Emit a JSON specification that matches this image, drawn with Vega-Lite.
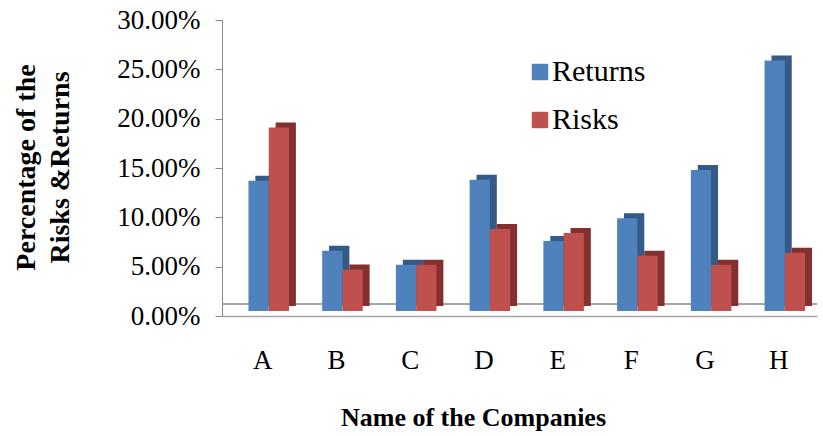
{
  "$schema": "https://vega.github.io/schema/vega-lite/v6.json",
  "autosize": {"type": "none"},
  "width": 595,
  "height": 296,
  "padding": {"left": 222, "top": 20, "right": 6, "bottom": 120},
  "background": "white",
  "config": {
    "view": {"stroke": null},
    "font": "Liberation Serif",
    "axis": {"labelFont": "Liberation Serif", "titleFont": "Liberation Serif"},
    "legend": {"labelFont": "Liberation Serif", "titleFont": "Liberation Serif"}
  },
  "resolve": {"scale": {"x": "independent"}},
  "data": {
    "values": [
      {"company": "A", "series": "Returns", "value": 0.132},
      {"company": "A", "series": "Risks", "value": 0.186},
      {"company": "B", "series": "Returns", "value": 0.061},
      {"company": "B", "series": "Risks", "value": 0.042},
      {"company": "C", "series": "Returns", "value": 0.047},
      {"company": "C", "series": "Risks", "value": 0.047},
      {"company": "D", "series": "Returns", "value": 0.133},
      {"company": "D", "series": "Risks", "value": 0.083},
      {"company": "E", "series": "Returns", "value": 0.071},
      {"company": "E", "series": "Risks", "value": 0.079},
      {"company": "F", "series": "Returns", "value": 0.094},
      {"company": "F", "series": "Risks", "value": 0.056},
      {"company": "G", "series": "Returns", "value": 0.143},
      {"company": "G", "series": "Risks", "value": 0.047},
      {"company": "H", "series": "Returns", "value": 0.254},
      {"company": "H", "series": "Risks", "value": 0.059}
    ]
  },
  "layer": [
    {
      "mark": {"type": "rule", "color": "#a6a6a6", "strokeWidth": 1.5, "yOffset": -12},
      "encoding": {"y": {"datum": 0, "type": "quantitative"}}
    },
    {
      "mark": {"type": "bar", "yOffset": -10},
      "encoding": {
        "x": {"field": "company", "type": "nominal", "scale": {"paddingInner": 0.45, "paddingOuter": 0.26, "align": 0.87}, "axis": null},
        "xOffset": {"field": "series", "type": "nominal", "scale": {"padding": 0}},
        "y": {"field": "value", "type": "quantitative"},
        "fill": {
          "condition": {"test": "datum.series === 'Returns'", "value": "#345a88"},
          "value": "#84302e"
        }
      }
    },
    {
      "mark": {"type": "bar", "yOffset": -5},
      "encoding": {
        "x": {
          "field": "company",
          "type": "nominal",
          "scale": {"paddingInner": 0.45, "paddingOuter": 0.26, "align": 0.69},
          "axis": {
            "title": "Name of the Companies",
            "titleFont": "Liberation Serif",
            "titleFontSize": 26,
            "titleFontWeight": "bold",
            "titleColor": "black",
            "titleX": 251,
            "titleY": 109,
            "titleAlign": "center",
            "titleAnchor": null,
            "titleBaseline": "alphabetic",
            "labelAngle": 0,
            "labelFont": "Liberation Serif",
            "labelFontSize": 27,
            "labelColor": "black",
            "labelPadding": 31,
            "labelOffset": -6,
            "ticks": false,
            "tickSize": 0,
            "domainColor": "#a6a6a6",
            "domainWidth": 1.5
          }
        },
        "xOffset": {"field": "series", "type": "nominal", "scale": {"padding": 0}},
        "y": {
          "field": "value",
          "type": "quantitative",
          "scale": {"domain": [0, 0.3], "nice": false},
          "axis": {
            "title": ["Percentage of the", "Risks &Returns"],
            "titleFont": "Liberation Serif",
            "titleFontSize": 28,
            "titleFontWeight": "bold",
            "titleColor": "black",
            "titleLineHeight": 34,
            "titleX": -196,
            "titleY": 147,
            "titleAlign": "center",
            "titleBaseline": "middle",
            "titleAnchor": null,
            "values": [0, 0.05, 0.1, 0.15, 0.2, 0.25, 0.3],
            "format": ".2%",
            "labelFont": "Liberation Serif",
            "labelFontSize": 27,
            "labelColor": "black",
            "labelPadding": 15,
            "tickSize": 7,
            "tickColor": "#898989",
            "domainColor": "#898989",
            "grid": false
          }
        },
        "color": {
          "field": "series",
          "type": "nominal",
          "scale": {"domain": ["Returns", "Risks"], "range": ["#4f81bd", "#c0504d"]},
          "legend": {
            "title": null,
            "orient": "none",
            "legendX": 303,
            "legendY": 37,
            "padding": 0,
            "symbolType": "square",
            "symbolSize": 270,
            "symbolStrokeWidth": 0,
            "labelFont": "Liberation Serif",
            "labelFontSize": 30,
            "labelColor": "black",
            "labelOffset": -3,
            "rowPadding": 18
          }
        }
      }
    }
  ]
}
